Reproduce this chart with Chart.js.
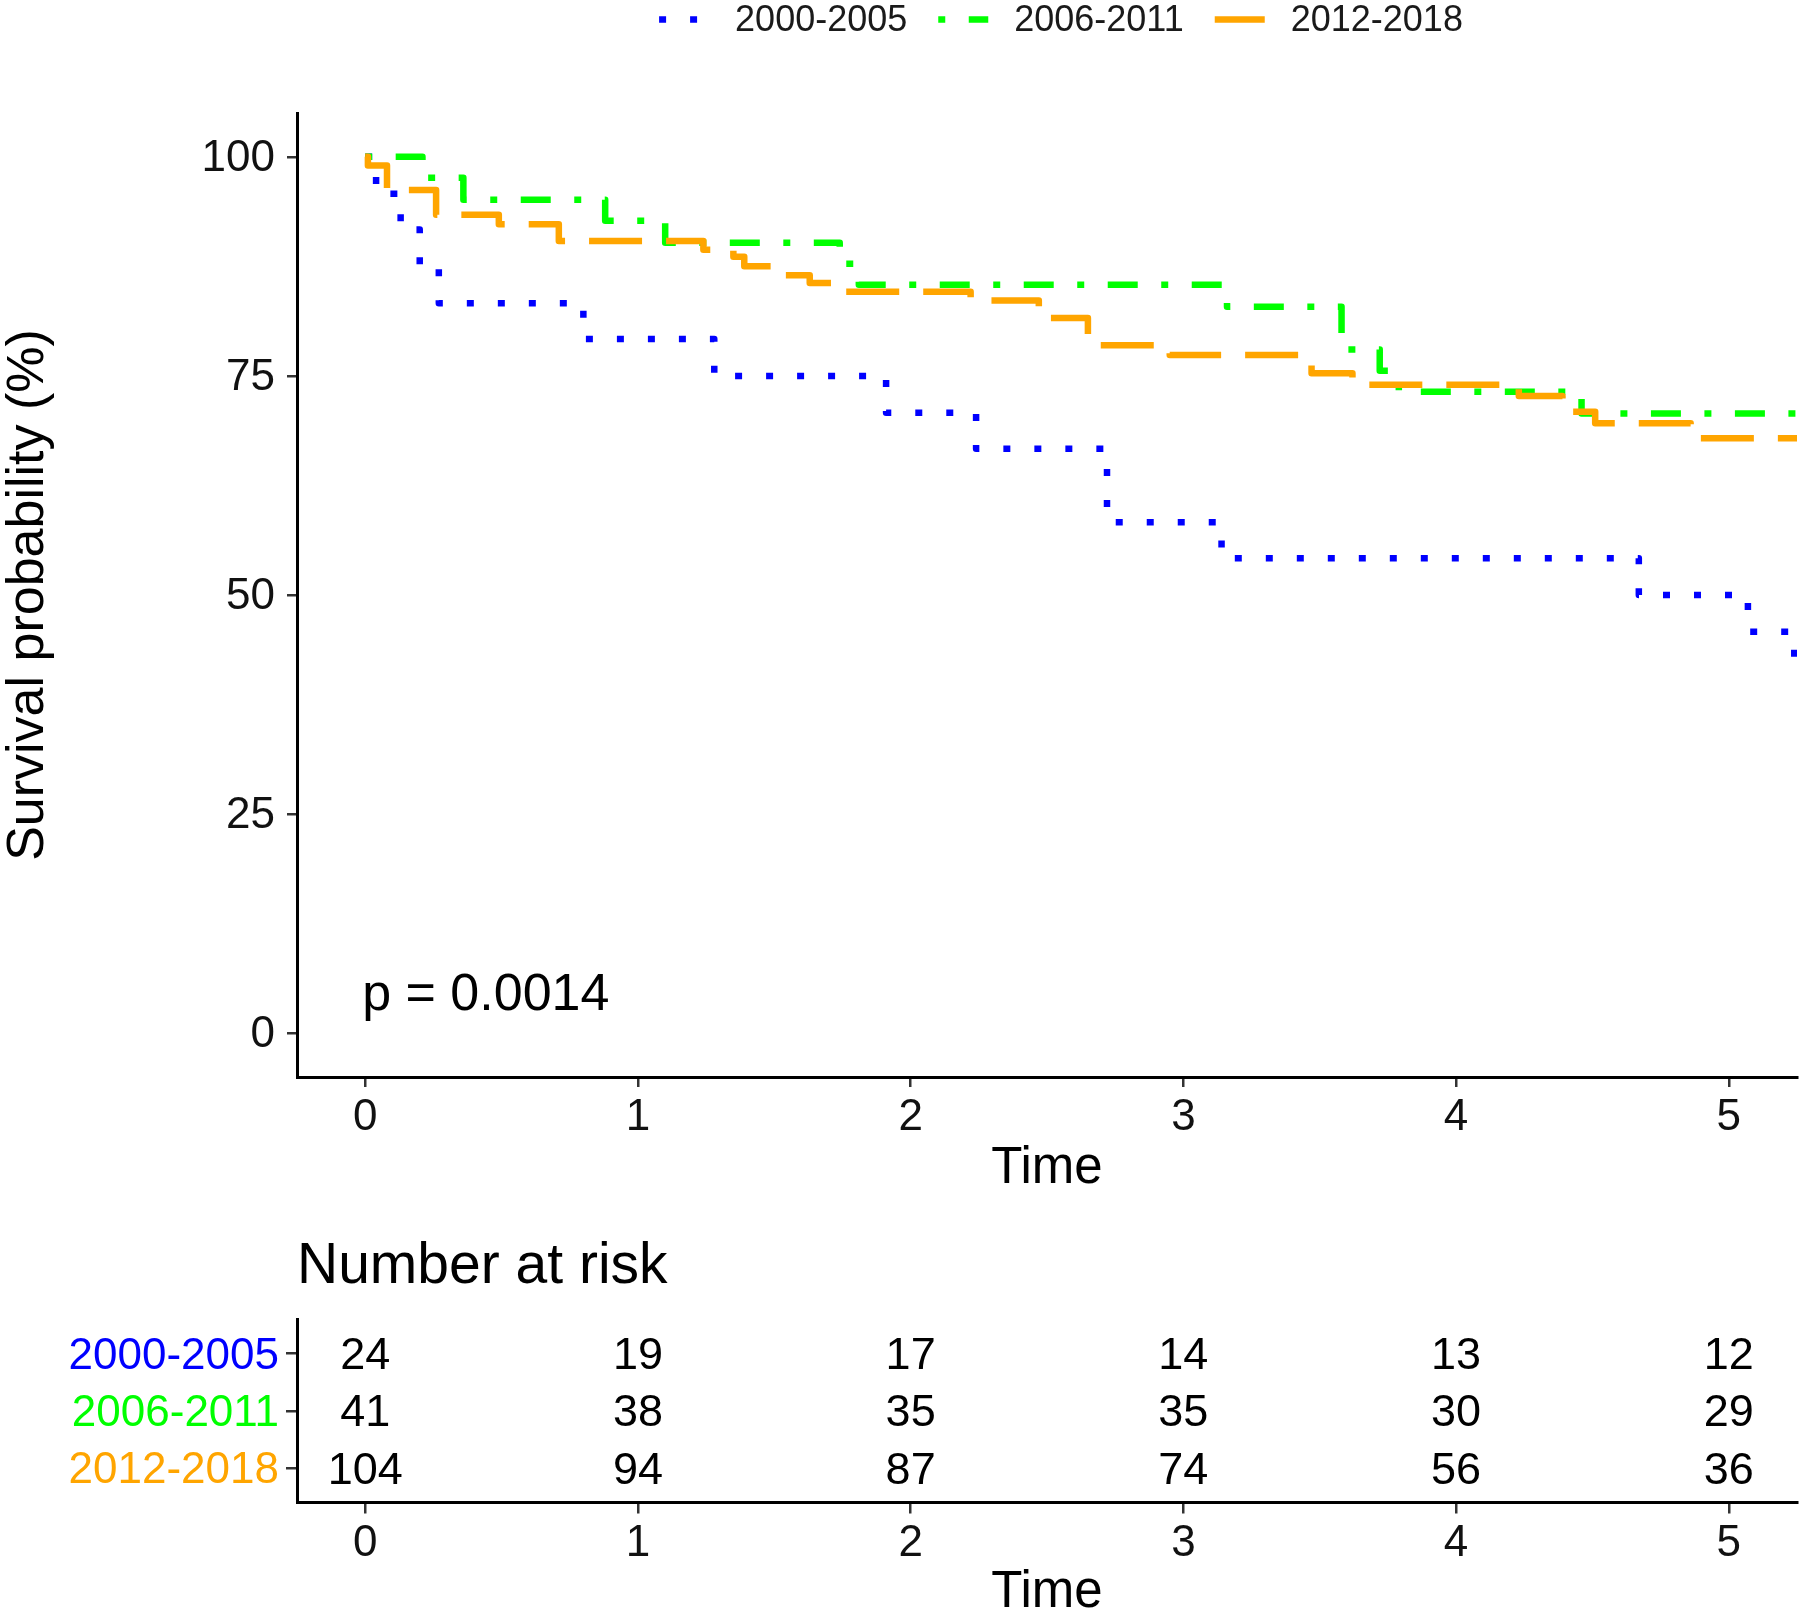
<!DOCTYPE html>
<html>
<head>
<meta charset="utf-8">
<title>Survival by period</title>
<script src="https://cdn.jsdelivr.net/npm/chart.js@4.4.0/dist/chart.umd.min.js"></script>
<style>
  html, body { margin: 0; padding: 0; background: #fff; overflow: hidden; }
  #wrap { position: relative; width: 1800px; height: 1615px; overflow: hidden; }
  #survCanvas { position: absolute; left: 0; top: 0; }
  #riskCanvas { position: absolute; left: 0; top: 1200px; }
</style>
</head>
<body>
<div id="wrap">
  <canvas id="survCanvas" width="1800" height="1200"></canvas>
  <canvas id="riskCanvas" width="1800" height="440"></canvas>
</div>
<script>
// Groups
const groups = ["2000-2005", "2006-2011", "2012-2018"];
const groupColors = ["#0000FF", "#00FF00", "#FFA500"];

// Kaplan-Meier steps: event times and survival (%) after each step
const times2000 = [0.04, 0.13, 0.20, 0.27, 0.80, 1.28, 1.91, 2.24, 2.72, 3.14, 4.67, 5.07, 5.24];
const surv2000  = [95.8, 91.7, 87.5, 83.3, 79.2, 75.0, 70.8, 66.7, 58.3, 54.2, 50.0, 45.8, 41.7];

const times2006 = [0.21, 0.36, 0.88, 1.10, 1.74, 1.81, 3.16, 3.58, 3.72, 3.79, 4.46];
const surv2006  = [97.6, 95.1, 92.7, 90.2, 87.8, 85.4, 82.9, 78.0, 75.6, 73.2, 70.7];

const times2012 = [0.01, 0.08, 0.26, 0.49, 0.71, 1.24, 1.35, 1.39, 1.52, 1.63, 1.76, 2.22, 2.47, 2.51, 2.65, 2.95, 3.47, 3.62, 4.23, 4.39, 4.51, 4.86];
const surv2012  = [99.0, 96.2, 93.4, 92.3, 90.4, 89.4, 88.6, 87.5, 86.5, 85.6, 84.6, 83.6, 82.4, 81.6, 78.5, 77.4, 75.3, 74.0, 72.7, 70.9, 69.6, 67.9];

const followUpEnd = 5.3;

// Axis ticks
const xTicks = [0, 1, 2, 3, 4, 5];
const yTicks = [0, 25, 50, 75, 100];

// Number at risk table
const riskTimes = [0, 1, 2, 3, 4, 5];
const risk2000 = [24, 19, 17, 14, 13, 12];
const risk2006 = [41, 38, 35, 35, 30, 29];
const risk2012 = [104, 94, 87, 74, 56, 36];

const pValueText = "p = 0.0014";
const pValuePos = { x: 0, y: 4.3 };

const FONT = '"Liberation Sans", Arial, Helvetica, sans-serif';
Chart.defaults.font.family = FONT;
Chart.defaults.color = "#111111";

function kmPoints(times, surv) {
   const pts = [{ x: 0, y: 100 }];
   times.forEach((t, i) => pts.push({ x: t, y: surv[i] }));
   pts.push({ x: followUpEnd, y: surv[surv.length - 1] });
   return pts;
}

function curve(i, times, surv, dash, order) {
   return {
      label: groups[i],
      data: kmPoints(times, surv),
      borderColor: groupColors[i],
      borderWidth: 6.5,
      borderDash: dash,
      borderCapStyle: 'butt',
      borderJoinStyle: 'round',
      stepped: true,
      pointRadius: 0,
      fill: false,
      clip: 0,
      order: order
   };
}

// shared axis bits
const tickGrid = {
   display: true,
   drawOnChartArea: false,
   drawTicks: true,
   tickLength: 10,
   lineWidth: 2.5,
   tickWidth: 2.5,
   tickColor: '#333333',
   color: '#333333'
};
const axisBorder = { display: true, color: '#000000', width: 3 };

function timeAxis(height, tickLen) {
   return {
      type: 'linear',
      min: -0.25,
      max: 5.25,
      afterBuildTicks: s => { s.ticks = xTicks.map(v => ({ value: v })); },
      afterFit: s => { s.height = height; },
      grid: Object.assign({}, tickGrid, { tickLength: tickLen }),
      border: axisBorder,
      ticks: { font: { size: 44 }, padding: 4, maxRotation: 0, autoSkip: false, color: '#111111' },
      title: { display: true, text: 'Time', color: '#000000', font: { size: 51, lineHeight: 1 }, padding: { top: 0, bottom: 4 } }
   };
}

// Legend across the top
const topLegend = {
   id: 'topLegend',
   afterDraw(chart) {
      const ctx = chart.ctx;
      const keyW = 50, keyGap = 26, itemGap = 31, centerX = 1061, keyY = 19.5, textY = 21;
      ctx.save();
      ctx.font = '36px ' + FONT;
      const sets = chart.data.datasets;
      const widths = sets.map(ds => ctx.measureText(ds.label).width);
      let total = itemGap * (sets.length - 1);
      widths.forEach(w => { total += keyW + keyGap + w; });
      let x = centerX - total / 2;
      sets.forEach((ds, i) => {
         ctx.beginPath();
         ctx.setLineDash(ds.borderDash);
         ctx.lineDashOffset = 0;
         ctx.lineCap = 'butt';
         ctx.lineWidth = ds.borderWidth;
         ctx.strokeStyle = ds.borderColor;
         ctx.moveTo(x, keyY);
         ctx.lineTo(x + keyW, keyY);
         ctx.stroke();
         ctx.setLineDash([]);
         ctx.fillStyle = '#1a1a1a';
         ctx.textAlign = 'left';
         ctx.textBaseline = 'middle';
         ctx.fillText(ds.label, x + keyW + keyGap, textY);
         x += keyW + keyGap + widths[i] + itemGap;
      });
      ctx.restore();
   }
};

// p-value inside the plot
const pValueLabel = {
   id: 'pValueLabel',
   afterDatasetsDraw(chart) {
      const { ctx, scales: { x, y } } = chart;
      ctx.save();
      ctx.font = '52px ' + FONT;
      ctx.fillStyle = '#000000';
      ctx.textAlign = 'left';
      ctx.textBaseline = 'middle';
      ctx.fillText(pValueText, x.getPixelForValue(pValuePos.x) - 3, y.getPixelForValue(pValuePos.y));
      ctx.restore();
   }
};

new Chart(document.getElementById('survCanvas'), {
   type: 'line',
   data: {
      datasets: [
         curve(0, times2000, surv2000, [7, 24], 2),
         curve(1, times2006, surv2006, [7, 23.5, 30, 23.5], 1),
         curve(2, times2012, surv2012, [53, 24], 0)
      ]
   },
   options: {
      responsive: false,
      animation: false,
      events: [],
      layout: { padding: { top: 113, right: 3, bottom: 1.5, left: 0 } },
      plugins: { legend: { display: false }, tooltip: { enabled: false }, title: { display: false } },
      scales: {
         x: timeAxis(121.5, 10),
         y: {
            type: 'linear',
            min: -5,
            max: 105,
            afterBuildTicks: s => { s.ticks = yTicks.map(v => ({ value: v })); },
            afterFit: s => { s.width = 297; },
            grid: tickGrid,
            border: axisBorder,
            ticks: { font: { size: 44 }, padding: 12, labelOffset: 2, color: '#111111' },
            title: { display: true, text: 'Survival probability (%)', color: '#000000', font: { size: 52, lineHeight: 1 }, padding: { top: 3, bottom: 0 } }
         }
      }
   },
   plugins: [topLegend, pValueLabel]
});

// Number at risk table
const riskRows = [risk2000, risk2006, risk2012];

const riskNumbers = {
   id: 'riskNumbers',
   afterDatasetsDraw(chart) {
      const { ctx, scales: { x, y } } = chart;
      ctx.save();
      ctx.font = '45px ' + FONT;
      ctx.fillStyle = '#000000';
      ctx.textAlign = 'center';
      ctx.textBaseline = 'middle';
      riskRows.forEach((row, i) => {
         row.forEach((n, j) => {
            ctx.fillText(String(n), x.getPixelForValue(riskTimes[j]), y.getPixelForValue(i + 1) + 3);
         });
      });
      ctx.restore();
   }
};

new Chart(document.getElementById('riskCanvas'), {
   type: 'scatter',
   data: { datasets: [{ data: [], pointRadius: 0 }] },
   options: {
      responsive: false,
      animation: false,
      events: [],
      layout: { padding: { top: 0, right: 3, bottom: 17.5, left: 0 } },
      plugins: {
         legend: { display: false },
         tooltip: { enabled: false },
         title: {
            display: true,
            text: 'Number at risk',
            align: 'start',
            fullSize: false,
            color: '#000000',
            font: { size: 57, weight: 'normal', lineHeight: 1 },
            padding: { top: 38.5, bottom: 23.5 }
         }
      },
      scales: {
         x: timeAxis(120, 11),
         y: {
            type: 'linear',
            min: 0.4,
            max: 3.6,
            reverse: true,
            afterBuildTicks: s => { s.ticks = [1, 2, 3].map(v => ({ value: v })); },
            afterFit: s => { s.width = 297; },
            grid: Object.assign({}, tickGrid, { tickLength: 11 }),
            border: axisBorder,
            ticks: {
               font: { size: 44 },
               padding: 7,
               labelOffset: 3,
               callback: v => groups[v - 1],
               color: c => groupColors[c.index]
            }
         }
      }
   },
   plugins: [riskNumbers]
});
</script>
</body>
</html>
